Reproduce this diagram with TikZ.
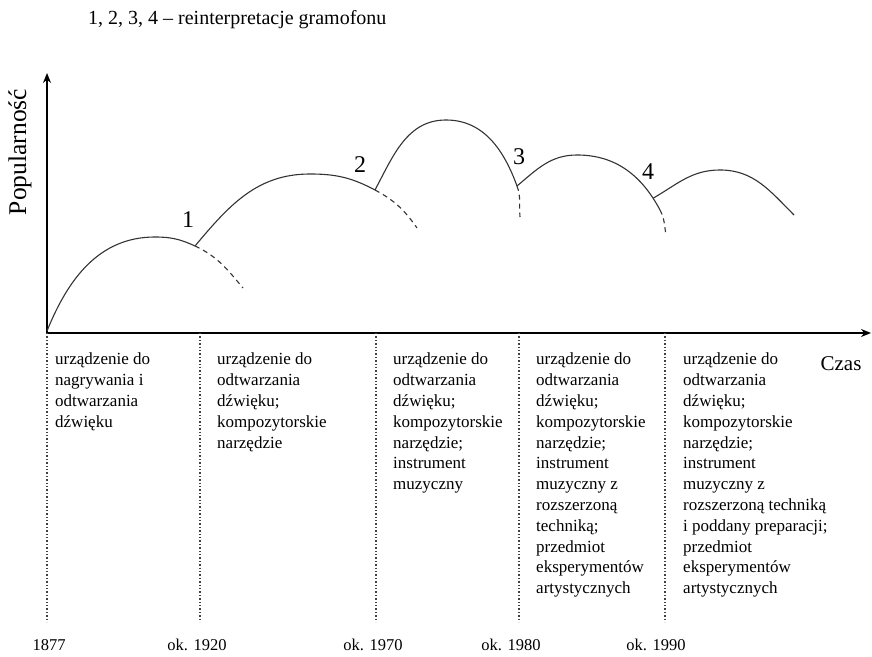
\documentclass[tikz,border=0pt]{standalone}
\usepackage{fontspec}
\setmainfont{Liberation Serif}
\usetikzlibrary{arrows.meta}
\begin{document}
\begin{tikzpicture}[x=1pt,y=1pt,
  axisline/.style={line width=1.6pt, -{Stealth[length=10pt,width=8pt]}},
  curve/.style={line width=1.1pt, draw=black!80},
  curvedash/.style={curve, dash pattern=on 5pt off 4pt},
  divider/.style={line width=1.4pt, dotted, draw=black!75},
  coltext/.style={anchor=north west, inner sep=0pt, align=left, font=\fontsize{17}{20.8}\selectfont},
  yearlabel/.style={font=\fontsize{16.5}{20}\selectfont, inner sep=0pt},
  numlabel/.style={font=\fontsize{24}{28}\selectfont, inner sep=0pt},
  bigtext/.style={inner sep=0pt}
]
\useasboundingbox (0,0) rectangle (872,656);

% title
\node[bigtext, anchor=west, font=\fontsize{20}{24}\selectfont] (title) at (88,636) {1, 2, 3, 4 -- reinterpretacje gramofonu};

% axes
\coordinate (O) at (47,323);
\coordinate (ytop) at (47,583);
\coordinate (xend) at (871,323);
\draw[axisline] (O) -- (ytop);
\draw[axisline] (O) -- (xend);
\node[bigtext, rotate=90, font=\fontsize{25.5}{28}\selectfont] (ylab) at (20,504) {Popularność};
\node[bigtext, font=\fontsize{21}{24}\selectfont] (xlab) at (841,292) {Czas};

% dividers
\foreach \n/\x in {a/47,b/200,c/376,d/519,e/665}{
  \coordinate (d\n top) at (\x,323);
  \coordinate (d\n bot) at (\x,34);
  \draw[divider] (d\n top) -- (d\n bot);
}

% year labels
\node[yearlabel] (y1) at (49,11) {1877};
\node[yearlabel] (y2) at (197,11) {ok. 1920};
\node[yearlabel] (y3) at (373,11) {ok. 1970};
\node[yearlabel] (y4) at (511,11) {ok. 1980};
\node[yearlabel] (y5) at (656,11) {ok. 1990};

% column texts
\node[coltext] (c1) at (55,303) {urządzenie do\\nagrywania i\\odtwarzania\\dźwięku};
\node[coltext] (c2) at (217,303) {urządzenie do\\odtwarzania\\dźwięku;\\kompozytorskie\\narzędzie};
\node[coltext] (c3) at (393,303) {urządzenie do\\odtwarzania\\dźwięku;\\kompozytorskie\\narzędzie;\\instrument\\muzyczny};
\node[coltext] (c4) at (536,303) {urządzenie do\\odtwarzania\\dźwięku;\\kompozytorskie\\narzędzie;\\instrument\\muzyczny z\\rozszerzoną\\techniką;\\przedmiot\\eksperymentów\\artystycznych};
\node[coltext] (c5) at (683,303) {urządzenie do\\odtwarzania\\dźwięku;\\kompozytorskie\\narzędzie;\\instrument\\muzyczny z\\rozszerzoną techniką\\i poddany preparacji;\\przedmiot\\eksperymentów\\artystycznych};

% curve key points
\coordinate (S) at (47,325);
\coordinate (P1) at (155,419);
\coordinate (J1) at (195,410);
\coordinate (E1) at (243,368);
\coordinate (P2) at (310,482);
\coordinate (J2) at (375,466);
\coordinate (E2) at (417,428);
\coordinate (P3) at (446,536);
\coordinate (J3) at (517,470);
\coordinate (E3) at (520,439);
\coordinate (P4) at (577,501);
\coordinate (K4) at (660,446);
\coordinate (E4) at (666,421);
\coordinate (P5) at (720,486);
\coordinate (E5) at (794,441);

% arc 1
\draw[curve] (S) to[out=68,in=180] (P1) to[out=0,in=155] (J1);
\draw[curvedash] (J1) to[out=-25,in=130] (E1);
% arc 2
\draw[curve] (J1) to[out=50,in=180] (P2) to[out=0,in=152] (J2);
\draw[curvedash] (J2) to[out=-28,in=125] (E2);
% arc 3
\draw[curve] (J2) to[out=62,in=180] (P3) to[out=0,in=110] (J3);
\draw[curvedash] (J3) to[out=-70,in=95] (E3);
% arc 4 (J4 is the point on it where arc 5 starts)
\draw[curve] (J3) to[out=40,in=180] (P4) to[out=0,in=118] coordinate[pos=0.88] (J4) (K4);
\draw[curvedash] (K4) to[out=-62,in=100] (E4);
% arc 5
\draw[curve] (J4) to[out=30,in=180] (P5) to[out=0,in=135] (E5);

% numbers
\node[numlabel] (n1) at (188,436) {1};
\node[numlabel] (n2) at (360,491) {2};
\node[numlabel] (n3) at (519,499) {3};
\node[numlabel] (n4) at (648,484) {4};
\end{tikzpicture}
\end{document}
